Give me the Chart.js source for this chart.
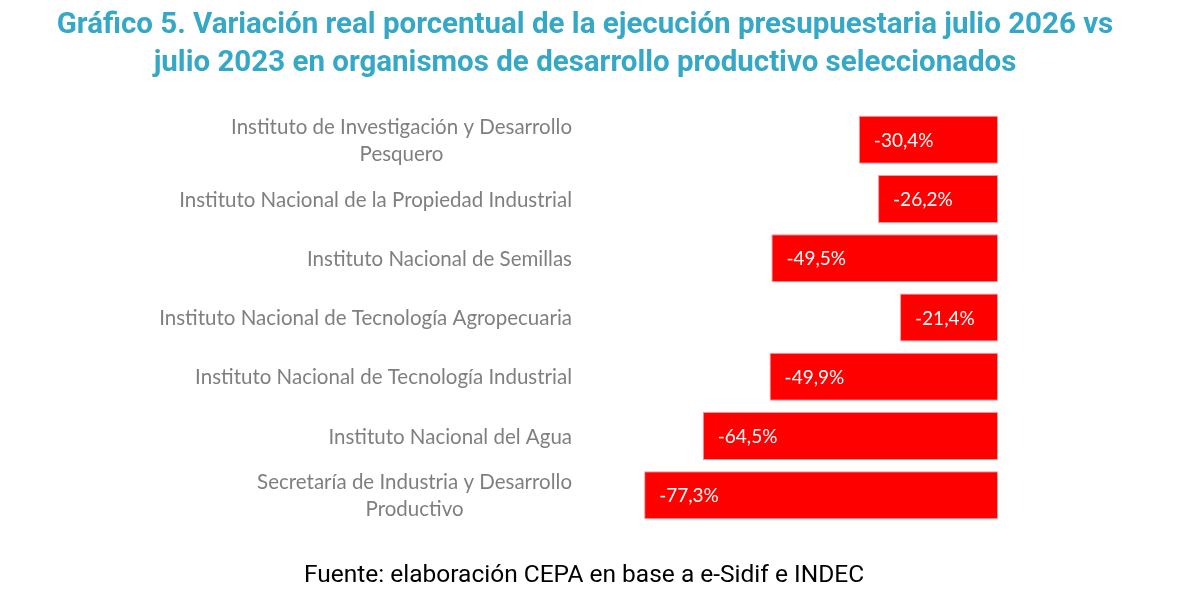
<!DOCTYPE html>
<html>
<head>
<meta charset="utf-8">
<script src="https://cdn.jsdelivr.net/npm/chart.js@4/dist/chart.umd.min.js"></script>
<style>
    html, body { margin: 0; padding: 0; background: #fff; }
    #wrap { position: relative; width: 1180px; height: 599px; }
    #title {
        position: absolute; left: 0; top: 4px; width: 1170px;
        text-align: center; font-family: Roboto, sans-serif; font-weight: bold;
        font-size: 29.5px; line-height: 38px; color: #35a8c8;
    }
    #source {
        position: absolute; left: 0; top: 559px; width: 1168px;
        text-align: center; font-family: Roboto, sans-serif; font-size: 24.5px; line-height: 30px; color: #000;
    }
    canvas { position: absolute; left: 0; top: 0; }
</style>
</head>
<body>
<div id="wrap">
    <canvas id="chart" width="1180" height="599"></canvas>
    <div id="title">Gráfico 5. Variación real porcentual de la ejecución presupuestaria julio 2026 vs<br>julio 2023 en organismos de desarrollo productivo seleccionados</div>
    <div id="source">Fuente: elaboración CEPA en base a e-Sidif e INDEC</div>
</div>
<script>
const organismos = [
    ['Instituto de Investigación y Desarrollo', 'Pesquero'],
    ['Instituto Nacional de la Propiedad Industrial'],
    ['Instituto Nacional de Semillas'],
    ['Instituto Nacional de Tecnología Agropecuaria'],
    ['Instituto Nacional de Tecnología Industrial'],
    ['Instituto Nacional del Agua'],
    ['Secretaría de Industria y Desarrollo', 'Productivo'],
];
const variacion = [-30.4, -26.2, -49.5, -21.4, -49.9, -64.5, -77.3];

const labelFont = "Lato, 'Open Sans', sans-serif";

const categoryLabels = {
    id: 'categoryLabels',
    afterDraw(chart) {
        const { ctx, scales: { y } } = chart;
        ctx.save();
        ctx.font = '20.5px ' + labelFont;
        ctx.fillStyle = '#7f7f7f';
        ctx.textAlign = 'center';
        ctx.textBaseline = 'middle';
        const right = 572;
        const lineH = 27;
        organismos.forEach((lines, i) => {
            const cy = y.getPixelForValue(i) + 1;
            const w = Math.max(...lines.map((l) => ctx.measureText(l).width));
            const cx = right - w / 2;
            const y0 = cy - (lines.length - 1) * lineH / 2;
            lines.forEach((l, j) => ctx.fillText(l, cx, y0 + j * lineH));
        });
        ctx.restore();
    },
};

const valueLabels = {
    id: 'valueLabels',
    afterDatasetsDraw(chart) {
        const { ctx } = chart;
        const meta = chart.getDatasetMeta(0);
        ctx.save();
        ctx.font = '19px ' + labelFont;
        ctx.fillStyle = '#ffffff';
        ctx.textAlign = 'left';
        ctx.textBaseline = 'middle';
        meta.data.forEach((bar, i) => {
            const txt = variacion[i].toFixed(1).replace('.', ',') + '%';
            ctx.fillText(txt, bar.x + 15, bar.y + 1);
        });
        ctx.restore();
    },
};

new Chart(document.getElementById('chart'), {
    type: 'bar',
    data: {
        labels: organismos.map((l) => l.join(' ')),
        datasets: [{
            data: variacion,
            backgroundColor: '#ff0000',
            borderColor: 'rgba(255, 140, 140, 0.9)',
            borderWidth: 1,
            borderSkipped: false,
            categoryPercentage: 1,
            barPercentage: 0.81,
        }],
    },
    options: {
        indexAxis: 'y',
        responsive: false,
        animation: false,
        layout: { padding: { left: 586, right: 182, top: 110, bottom: 74 } },
        plugins: { legend: { display: false }, tooltip: { enabled: false } },
        scales: {
            x: { min: -90, max: 0, display: false },
            y: { display: false },
        },
    },
    plugins: [categoryLabels, valueLabels],
});
</script>
</body>
</html>
